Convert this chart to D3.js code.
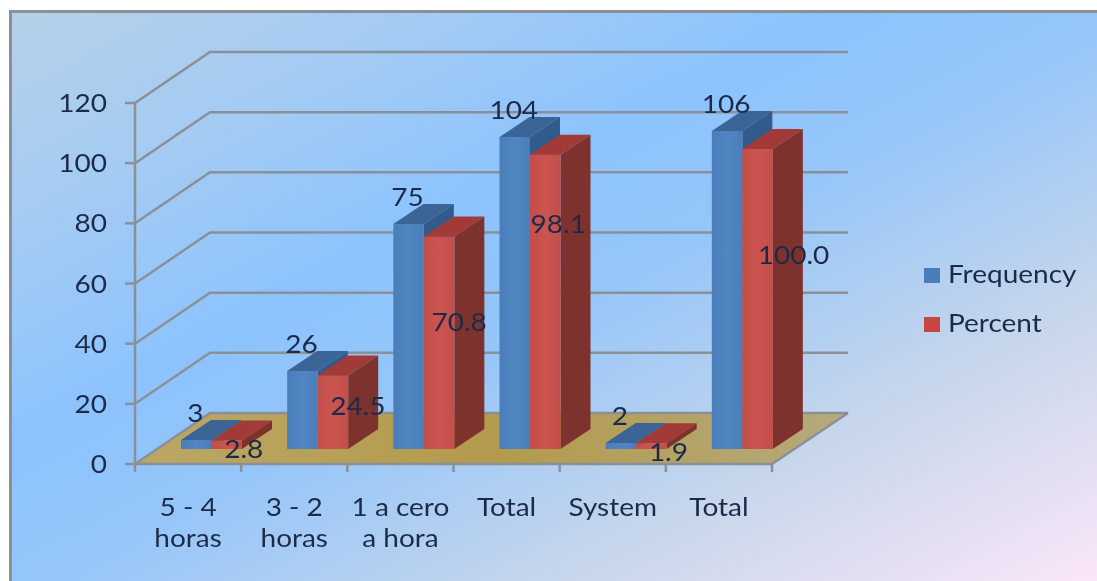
<!DOCTYPE html>
<html><head><meta charset="utf-8">
<script src="https://cdn.jsdelivr.net/npm/d3@7"></script>
<style>html,body{margin:0;padding:0;background:#fff}svg{display:block;filter:blur(0.5px)}</style>
</head><body><div id="c"></div>
<script>
const categories = [["5 - 4","horas"],["3 - 2","horas"],["1 a cero","a hora"],["Total"],["System"],["Total"]];
const frequency = [3,26,75,104,2,106];
const percent = [2.8,24.5,70.8,98.1,1.9,100.0];
const percentLabels = ["2.8","24.5","70.8","98.1","1.9","100.0"];
const yTicks = [0,20,40,60,80,100,120];
const seriesNames = ["Frequency","Percent"];

const W=1097,H=581;
const fx=135,fxEnd=772,fy=464,wallDx=75,wallDy=-51,barDx=30,barDy=-20,baseY=449;
const pctLabelOffset=[[17,9],[25,31],[20,86],[13,70],[17,9],[36,106]];
const ink="#1c2a4a", grid="#8b9098";
const sx=1.12;

const svg=d3.select("#c").append("svg").attr("width",W).attr("height",H);
const defs=svg.append("defs");
const bg=defs.append("linearGradient").attr("id","bg").attr("x1",0).attr("y1",0).attr("x2",1).attr("y2",1);
[[0,"#b6d0e9"],[.2,"#a3cbf3"],[.38,"#8cc3fe"],[.52,"#96c6f9"],[.75,"#c6d6eb"],[1,"#fae6f8"]].forEach(s=>bg.append("stop").attr("offset",s[0]).attr("stop-color",s[1]));
const fl=defs.append("linearGradient").attr("id","floor");
[[0,"#bba766"],[.5,"#b39a4c"],[1,"#b5aa7c"]].forEach(s=>fl.append("stop").attr("offset",s[0]).attr("stop-color",s[1]));
function faceGrad(id,a,b){const g=defs.append("linearGradient").attr("id",id);
 [[0,a],[.5,b],[1,a]].forEach(s=>g.append("stop").attr("offset",s[0]).attr("stop-color",s[1]));}
faceGrad("fBlue","#4a7eba","#5086c2");faceGrad("fRed","#c24e4a","#cc544f");

svg.append("rect").attr("x",10).attr("y",11).attr("width",W-10).attr("height",H-11).attr("fill","url(#bg)");
svg.append("path").attr("d",`M10.5 ${H}V11.5H${W}`).attr("fill","none").attr("stroke","#8a8f98").attr("stroke-width",3);

const y=d3.scaleLinear().domain([0,120]).range([fy,103]);
const h=d3.scaleLinear().domain([0,120]).range([0,360]);
const x0=d3.scaleBand().domain(d3.range(categories.length)).range([fx,fxEnd]);
const line=d3.line();
const poly=p=>line(p)+"Z";

// floor
svg.append("path").attr("d",poly([[fx,fy],[fx+wallDx,fy+wallDy],[848,fy+wallDy],[fxEnd,fy]])).attr("fill","url(#floor)");

// gridlines
svg.append("g").selectAll("path").data(yTicks).join("path")
 .attr("d",t=>d3.line()([[fx,y(t)],[fx+wallDx,y(t)+wallDy],[848,y(t)+wallDy]]))
 .attr("fill","none").attr("stroke",grid).attr("stroke-width",2.5);
// front axes
svg.append("path").attr("d",`M${fx} ${y(120)}V${fy}H${fxEnd}L848 ${fy+wallDy}`).attr("fill","none").attr("stroke",grid).attr("stroke-width",2.5);
svg.append("g").selectAll("path").data(yTicks).join("path").attr("d",t=>`M${fx-10} ${y(t)}H${fx}`).attr("stroke",grid).attr("stroke-width",2.5);
svg.append("g").selectAll("path").data(d3.range(categories.length+1)).join("path")
 .attr("d",i=>`M${fx+i*x0.step()} ${fy}v8`).attr("stroke",grid).attr("stroke-width",2.5);

function label(x,yy,str,anchor){
 return svg.append("text").attr("transform",`translate(${x},${yy}) scale(${sx},1)`)
  .attr("text-anchor",anchor||"middle").attr("font-family","Lato").attr("font-size",25).attr("fill",ink).text(str);
}
yTicks.forEach(t=>label(107,y(t)+9,String(t),"end"));
categories.forEach((c,i)=>c.forEach((s,j)=>label(x0(i)+x0.bandwidth()/2,516+j*31,s)));

function bar(x,w,v,front,top,side){
 const t=baseY-h(v),g=svg.append("g");
 g.append("path").attr("d",poly([[x,t],[x+barDx,t+barDy],[x+w+barDx,t+barDy],[x+w,t]])).attr("fill",top);
 g.append("path").attr("d",poly([[x+w,t],[x+w+barDx,t+barDy],[x+w+barDx,baseY+barDy],[x+w,baseY]])).attr("fill",side);
 g.append("rect").attr("x",x).attr("y",t).attr("width",w).attr("height",baseY-t).attr("fill",front);
}
const bw=30.5, off=46;
categories.forEach((c,i)=>{
 const bx=x0(i)+off, rx=bx+bw;
 bar(bx,bw,frequency[i],"url(#fBlue)","#3b6596","#325a8a");
 bar(rx,bw,percent[i],"url(#fRed)","#a23b37","#7e322e");
});
categories.forEach((c,i)=>{
 const bx=x0(i)+off, rx=bx+bw;
 label(bx+bw/2-1,baseY-h(frequency[i])-18.5,String(frequency[i]));
 label(rx+bw/2+pctLabelOffset[i][0],baseY-h(percent[i])+pctLabelOffset[i][1]+8.5,percentLabels[i]);
});

// legend
seriesNames.forEach((n,i)=>{
 const ly=[283,332][i];
 svg.append("rect").attr("x",924).attr("y",ly-15).attr("width",16).attr("height",15).attr("fill",["#4a7eba","#c8463f"][i]);
 label(948,ly,n,"start");
});
</script></body></html>
